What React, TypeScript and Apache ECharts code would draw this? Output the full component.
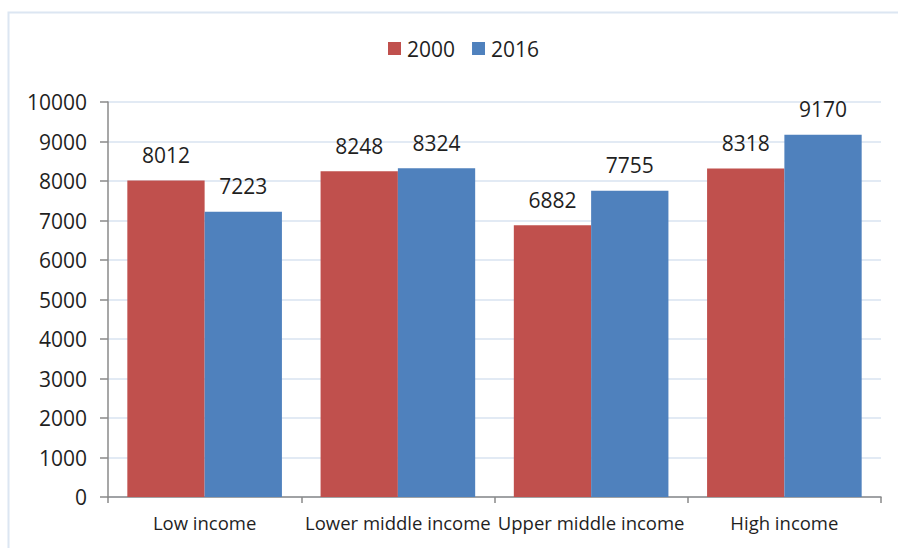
import React, { useEffect, useRef } from "react";
import * as echarts from "echarts";

const categories = ["Low income", "Lower middle income", "Upper middle income", "High income"];
const series2000 = [8012, 8248, 6882, 8318];
const series2016 = [7223, 8324, 7755, 9170];
const seriesNames = ["2000", "2016"];

const FONT = "Open Sans";
const TEXT = "#1f1f1f";

export default function App() {
  const ref = useRef<HTMLDivElement>(null);
  useEffect(() => {
    if (!ref.current) return;
    const chart = echarts.init(ref.current, null, { renderer: "svg" });
    chart.setOption({
      animation: false,
      backgroundColor: "#ffffff",
      textStyle: { fontFamily: FONT, color: TEXT },
      graphic: [
        {
          type: "rect",
          shape: { x: 8.5, y: 12.5, width: 1000, height: 1000 },
          style: { fill: "none", stroke: "#dce6f2", lineWidth: 2 },
          silent: true,
          z: -1,
        },
      ],
      legend: {
        data: seriesNames,
        top: 38,
        left: 388,
        padding: 0,
        itemWidth: 13,
        itemHeight: 13,
        itemGap: 17,
        icon: "rect",
        textStyle: { fontFamily: FONT, fontSize: 21, color: TEXT, padding: [0, 0, 0, 1] },
      },
      grid: { left: 108, right: 17, top: 102, bottom: 51, containLabel: false },
      xAxis: {
        type: "category",
        data: categories,
        axisLine: { lineStyle: { color: "#8a8a8a", width: 1.5 } },
        axisTick: { show: true, length: 6, lineStyle: { color: "#8a8a8a", width: 1.5 } },
        axisLabel: { fontFamily: FONT, fontSize: 18.5, color: TEXT, margin: 16, interval: 0 },
      },
      yAxis: {
        type: "value",
        min: 0,
        max: 10000,
        interval: 1000,
        axisLine: { show: true, lineStyle: { color: "#8a8a8a", width: 1.5 } },
        axisTick: { show: true, length: 8, lineStyle: { color: "#8a8a8a", width: 1.5 } },
        splitLine: { lineStyle: { color: "#d9e3f0", width: 1.5 } },
        axisLabel: {
          fontFamily: FONT,
          fontSize: 21,
          color: TEXT,
          margin: 21,
          formatter: (v: number) => String(v),
        },
      },
      series: [
        {
          name: seriesNames[0],
          type: "bar",
          data: series2000,
          itemStyle: { color: "#c0504d" },
          barGap: "0%",
          barCategoryGap: "20%",
          label: { show: true, position: "top", distance: 15, fontFamily: FONT, fontSize: 21, color: TEXT },
        },
        {
          name: seriesNames[1],
          type: "bar",
          data: series2016,
          itemStyle: { color: "#4f81bd" },
          barGap: "0%",
          barCategoryGap: "20%",
          label: { show: true, position: "top", distance: 15, fontFamily: FONT, fontSize: 21, color: TEXT },
        },
      ],
    });
    return () => chart.dispose();
  }, []);
  return (
    <div
      ref={ref}
      style={{ position: "absolute", left: 0, top: 0, width: 898, height: 548 }}
    />
  );
}
